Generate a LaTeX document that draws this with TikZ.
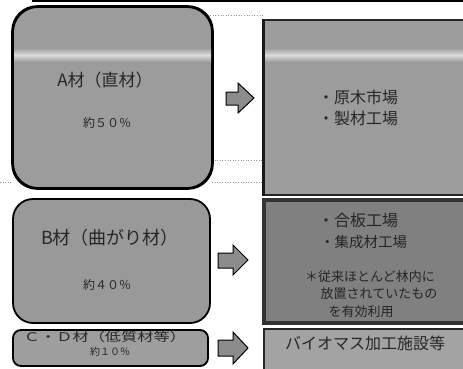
\documentclass[tikz,border=0pt]{standalone}
\usepackage{fontspec}
\newfontfamily\jp{Noto Sans CJK JP}
\tikzset{
  lbox/.style={draw=black, line width=1.8pt, inner sep=0pt},
  rbox/.style={draw=black!85, line width=1.2pt, inner sep=0pt},
  jtxt/.style={inner sep=0pt, text=black!85, font=\jp},
  blockarrow/.style={draw=black, line width=1pt, fill=black!45, line join=miter},
  faint/.style={draw=black!40, dotted, line width=0.6pt},
  band/.style={top color=black!39, bottom color=black!39, middle color=black!14}
}
\begin{document}
\begin{tikzpicture}[x=1pt,y=-1pt]
\useasboundingbox (0,0) rectangle (463,368);
% top rule
\draw[line width=2.5pt] (32,1) -- (463,1);
% faint scan lines
\draw[faint] (212,160) -- (263,160);
\draw[faint] (0,182) -- (13,182);
\draw[faint] (212,182) -- (263,182);
\draw[faint] (205,15) -- (263,15);
% left boxes
\node[lbox, fill=black!39, rounded corners=25pt, minimum width=199pt, minimum height=181pt] (A) at (112.5,97.5) {};
\fill[band] (14,48) rectangle (211,62);
\draw[lbox, rounded corners=25pt] (A.north west) rectangle (A.south east);
\node[lbox, fill=black!40, rounded corners=20pt, minimum width=197pt, minimum height=124pt] (B) at (111.5,261) {};
\node[lbox, fill=black!38, rounded corners=8pt, minimum width=195pt, minimum height=36pt] (C) at (110.5,348) {};
% right boxes
\node[rbox, fill=black!39, minimum width=202pt, minimum height=175pt] (RA) at (365,107.5) {};
\fill[band] (265,48) rectangle (463,62);
\draw[line width=3pt, black!90] (RA.north west) -- (RA.south west);
\draw[line width=1.2pt, black!85] (RA.north west) -- (RA.north east);
\node[rbox, draw=black!80, line width=3.2pt, fill=black!50, minimum width=202pt, minimum height=123pt] (RB) at (365,261.5) {};
\node[rbox, line width=1.5pt, fill=black!36, minimum width=202pt, minimum height=43pt] (RC) at (365,350.5) {};
% left texts
\node[jtxt, font=\jp\fontsize{17}{17}\selectfont] (tA) at (105,80) {A材（直材）};
\node[jtxt, font=\jp\fontsize{12}{12}\selectfont] (pA) at (107,123) {約５０％};
\node[jtxt, font=\jp\fontsize{18}{18}\selectfont] (tB) at (110,238) {B材（曲がり材）};
\node[jtxt, font=\jp\fontsize{12}{12}\selectfont] (pB) at (107,285) {約４０％};
\node[jtxt, font=\jp\fontsize{12}{12}\selectfont, xscale=1.35] (tC) at (105,337) {Ｃ・Ｄ材（低質材等）};
\node[jtxt, font=\jp\fontsize{10}{10}\selectfont] (pC) at (110,352) {約１０％};
% right texts
\node[jtxt, anchor=west, font=\jp\fontsize{16}{16}\selectfont] (rA1) at (318,97) {・原木市場};
\node[jtxt, anchor=west, font=\jp\fontsize{16}{16}\selectfont] (rA2) at (318,118) {・製材工場};
\node[jtxt, anchor=west, font=\jp\fontsize{16}{16}\selectfont] (rB1) at (318,220) {・合板工場};
\node[jtxt, anchor=west, font=\jp\fontsize{14.5}{14.5}\selectfont] (rB2) at (320,242) {・集成材工場};
\node[jtxt, font=\jp\fontsize{13}{13}\selectfont] (n1) at (370,277) {＊従来ほとんど林内に};
\node[jtxt, font=\jp\fontsize{13}{13}\selectfont] (n2) at (379,294) {放置されていたもの};
\node[jtxt, font=\jp\fontsize{13}{13}\selectfont] (n3) at (361,312) {を有効利用};
\node[jtxt, font=\jp\fontsize{16}{16}\selectfont] (rC1) at (365,343) {バイオマス加工施設等};
% block arrows
\draw[blockarrow] (226,92) -- (238,92) -- (238,83) -- (254,98) -- (238,113) -- (238,105) -- (226,105) -- cycle;
\draw[blockarrow] (218,253) -- (233,253) -- (233,245) -- (248,260) -- (233,275) -- (233,268) -- (218,268) -- cycle;
\draw[blockarrow] (218,340) -- (233,340) -- (233,332) -- (248,348) -- (233,364) -- (233,356) -- (218,356) -- cycle;
\end{tikzpicture}
\end{document}
